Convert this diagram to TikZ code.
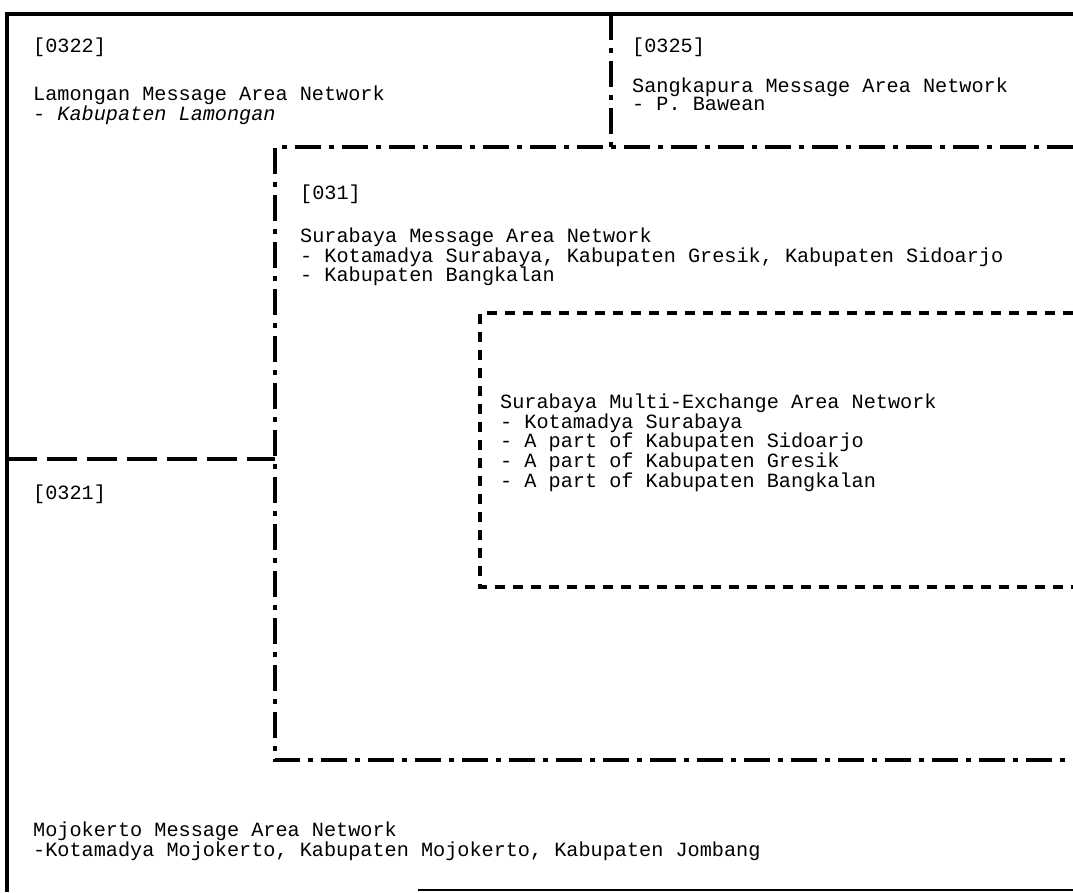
\documentclass[tikz,border=0pt]{standalone}
\usepackage{fontspec}
\setmonofont{Liberation Mono}
\newcommand\lstrut{\rule{0pt}{15pt}}
\begin{document}
\begin{tikzpicture}[x=1pt,y=-1pt,
  txt/.style={anchor=north west, inner sep=0pt, align=left, font=\ttfamily\fontsize{20.2}{18}\selectfont},
  txtb/.style={txt, font=\ttfamily\fontsize{20.2}{17.5}\selectfont},
  frame/.style={line width=3.8pt},
  thinframe/.style={line width=1.8pt},
  dashdot/.style={line width=3.4pt, dash pattern=on 26pt off 8pt on 5pt off 8pt},
  dashinner/.style={line width=3.2pt, dash pattern=on 10pt off 8pt},
  dashlong/.style={line width=3.2pt, dash pattern=on 30pt off 10pt}]
\useasboundingbox (0,0) rectangle (1073,892);
% outer frame
\coordinate (otr) at (1073,14);
\coordinate (otl) at (7,14);
\coordinate (obl) at (7,892);
\coordinate (bb1) at (418,890);
\coordinate (bb2) at (1073,890);
\draw[frame] (otr) -- (otl) -- (obl);
\draw[thinframe] (bb1) -- (bb2);
% separator 0322 / 0325
\coordinate (s1) at (611,14);
\coordinate (s2) at (611,147);
\draw[dashdot] (s1) -- (s2);
% 031 box
\coordinate (a1) at (1073,147);
\coordinate (a2) at (275,147);
\coordinate (a3) at (275,760);
\coordinate (a4) at (1073,760);
\draw[dashdot] (a1) -- (a2) -- (a3) -- (a4);
% 0321 separator
\coordinate (m1) at (7,459);
\coordinate (m2) at (275,459);
\draw[dashlong] (m1) -- (m2);
% inner box
\coordinate (i1) at (1073,313);
\coordinate (i2) at (480,313);
\coordinate (i3) at (480,587);
\coordinate (i4) at (1073,587);
\draw[dashinner] (i1) -- (i2) -- (i3) -- (i4);
% texts
\node[txt] (c0322) at (33,37) {\lstrut[0322]};
\node[txt] (lam) at (33,85) {\lstrut Lamongan Message Area Network\\{\itshape - Kabupaten Lamongan}};
\node[txt] (c0325) at (632,37) {\lstrut[0325]};
\node[txt] (sang) at (632,77) {\lstrut Sangkapura Message Area Network\\- P. Bawean};
\node[txt] (c031) at (300,184) {\lstrut[031]};
\node[txt] (sur) at (300,227) {\lstrut Surabaya Message Area Network\\- Kotamadya Surabaya, Kabupaten Gresik, Kabupaten Sidoarjo\\- Kabupaten Bangkalan};
\node[txtb] (multi) at (500,393) {\lstrut Surabaya Multi-Exchange Area Network\\- Kotamadya Surabaya\\- A part of Kabupaten Sidoarjo\\- A part of Kabupaten Gresik\\- A part of Kabupaten Bangkalan};
\node[txt] (c0321) at (33,484) {\lstrut[0321]};
\node[txt] (moj) at (33,821) {\lstrut Mojokerto Message Area Network\\-Kotamadya Mojokerto, Kabupaten Mojokerto, Kabupaten Jombang};
\end{tikzpicture}
\end{document}
